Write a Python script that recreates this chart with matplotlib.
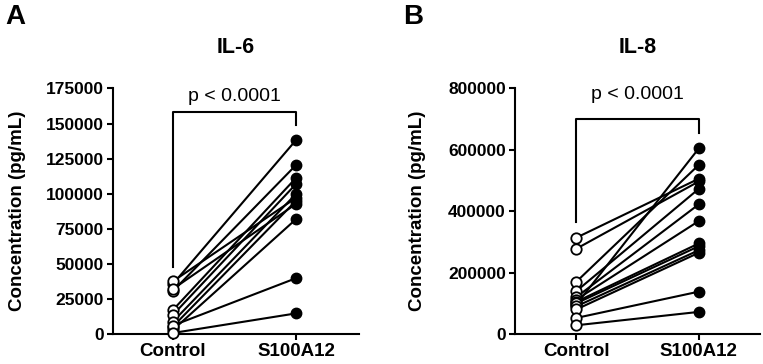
import matplotlib
matplotlib.use("Agg")
import matplotlib.pyplot as plt

plt.rcParams['font.family'] = ['Liberation Sans', 'DejaVu Sans']

groups = ["Control", "S100A12"]

il6_control = [35500, 30500, 37500, 32000, 17000, 13500, 8700, 5200, 2800, 6000, 700]
il6_s100a12 = [138300, 120500, 97100, 92800, 111300, 107000, 99900, 95000, 81900, 39800, 14700]
il6_ticks = [0, 25000, 50000, 75000, 100000, 125000, 150000, 175000]

il8_control = [313700, 277700, 170000, 95800, 139400, 120000, 112000, 105000, 100000, 90000, 80000, 52300, 28400]
il8_s100a12 = [506000, 497000, 551000, 604600, 473000, 422500, 368000, 295000, 286000, 273000, 264700, 138000, 72000]
il8_ticks = [0, 200000, 400000, 600000, 800000]

panels = [
    dict(letter="A", title="IL-6", ctrl=il6_control, trt=il6_s100a12, ticks=il6_ticks,
         bracket=(158400, 47600, 149100), ptext=166000,
         rect=[112.7/763, 1-334/364, 246.3/763, 245.5/364], lx=15/763, xl=(-0.487, 1.51)),
    dict(letter="B", title="IL-8", ctrl=il8_control, trt=il8_s100a12, ticks=il8_ticks,
         bracket=(699000, 363700, 653600), ptext=765000,
         rect=[515/763, 1-334/364, 245/763, 245.5/364], lx=413/763, xl=(-0.5, 1.5)),
]

fig = plt.figure(figsize=(7.63, 3.64), dpi=100)

for p in panels:
    ax = fig.add_axes(p["rect"])
    for c, t in zip(p["ctrl"], p["trt"]):
        ax.plot([0, 1], [c, t], color="black", lw=1.5, zorder=2, clip_on=False)
    ax.plot([0]*len(p["ctrl"]), p["ctrl"], 'o', ms=7.5, mfc="white", mec="black", mew=1.3,
            zorder=3, clip_on=False)
    ax.plot([1]*len(p["trt"]), p["trt"], 'o', ms=7.5, mfc="black", mec="black", mew=1.0,
            zorder=3, clip_on=False)
    top, lbot, rbot = p["bracket"]
    ax.plot([0, 0, 1, 1], [lbot, top, top, rbot], color="black", lw=1.5, clip_on=False)
    ax.text(0.5, p["ptext"], "p < 0.0001", ha="center", va="baseline", fontsize=14)
    ax.set_xlim(*p["xl"])
    ax.set_ylim(0, p["ticks"][-1])
    ax.set_yticks(p["ticks"])
    ax.set_yticklabels([str(v) for v in p["ticks"]], fontweight="bold", fontsize=12.5)
    ax.set_xticks([0, 1])
    ax.set_xticklabels(groups, fontweight="bold", fontsize=13.5)
    for s in ["top", "right"]:
        ax.spines[s].set_visible(False)
    for s in ["left", "bottom"]:
        ax.spines[s].set_linewidth(1.5)
    ax.tick_params(width=1.5, length=4.5, pad=2)
    ax.set_ylabel("Concentration (pg/mL)", fontweight="bold", fontsize=13.5)
    ax.yaxis.set_label_coords(-0.35 if p["letter"] == "A" else -0.365, 0.5)
    ax.text(0.5, 1.165, p["title"], transform=ax.transAxes, ha="center", va="center",
            fontsize=15.5, fontweight="bold")
    fig.text(p["lx"], 0.953, p["letter"], ha="center", va="center", fontsize=20, fontweight="bold")

fig.savefig("out.png", dpi=100)
